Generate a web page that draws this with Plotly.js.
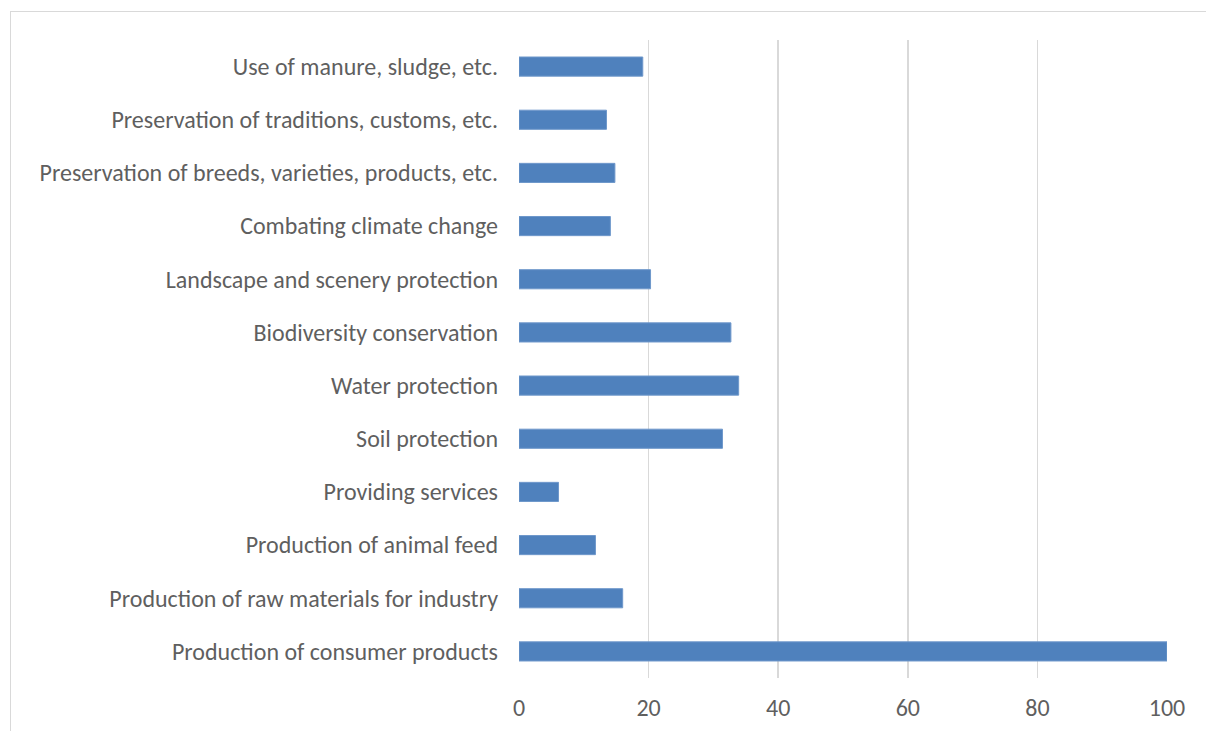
<!DOCTYPE html>
<html>
<head>
<meta charset="utf-8">
<script src="https://cdn.plot.ly/plotly-3.0.1.min.js"></script>
<style>
  html, body { margin: 0; padding: 0; background: #ffffff; width: 1206px; height: 731px; overflow: hidden; }
  #frame { position: absolute; left: 10px; top: 11px; width: 1210px; height: 740px; border: 1px solid #d9d9d9; box-sizing: border-box; }
  #chart { position: absolute; left: 0; top: 0; width: 1206px; height: 731px; }
</style>
</head>
<body>
<div id="frame"></div>
<div id="chart"></div>
<script>
const categories = [
  "Production of consumer products",
  "Production of raw materials for industry",
  "Production of animal feed",
  "Providing services",
  "Soil protection",
  "Water protection",
  "Biodiversity conservation",
  "Landscape and scenery protection",
  "Combating climate change",
  "Preservation of breeds, varieties, products, etc.",
  "Preservation of traditions, customs, etc.",
  "Use of manure, sludge, etc."
];
const values = [100, 16.0, 11.8, 6.1, 31.4, 33.9, 32.7, 20.3, 14.1, 14.8, 13.5, 19.1];
const xTicks = [0, 20, 40, 60, 80, 100];

const font = "Carlito, Calibri, Lato, 'Open Sans', sans-serif";

Plotly.newPlot('chart', [{
  type: 'bar',
  orientation: 'h',
  y: categories,
  x: values,
  width: 0.36,
  marker: { color: '#4f81bd', line: { color: '#6f98cb', width: 1 } },
  hoverinfo: 'none'
}], {
  width: 1206,
  height: 731,
  margin: { l: 519, r: 39, t: 40, b: 53 },
  paper_bgcolor: 'rgba(0,0,0,0)',
  plot_bgcolor: 'rgba(0,0,0,0)',
  showlegend: false,
  font: { family: font, size: 24, color: '#5f5f5f' },
  xaxis: {
    range: [0, 100],
    tickvals: xTicks,
    ticktext: xTicks.map(String),
    showgrid: true,
    gridcolor: '#d9d9d9',
    gridwidth: 1.5,
    zeroline: false,
    showline: false,
    ticks: '',
    ticklabelstandoff: 13,
    tickfont: { family: font, size: 24, color: '#5f5f5f' },
    fixedrange: true
  },
  yaxis: {
    type: 'category',
    categoryorder: 'array',
    categoryarray: categories,
    showgrid: false,
    zeroline: false,
    showline: false,
    ticks: '',
    ticklabelstandoff: 20,
    tickfont: { family: font, size: 24, color: '#5f5f5f' },
    automargin: false,
    fixedrange: true
  }
}, { displayModeBar: false, staticPlot: true });
</script>
</body>
</html>
